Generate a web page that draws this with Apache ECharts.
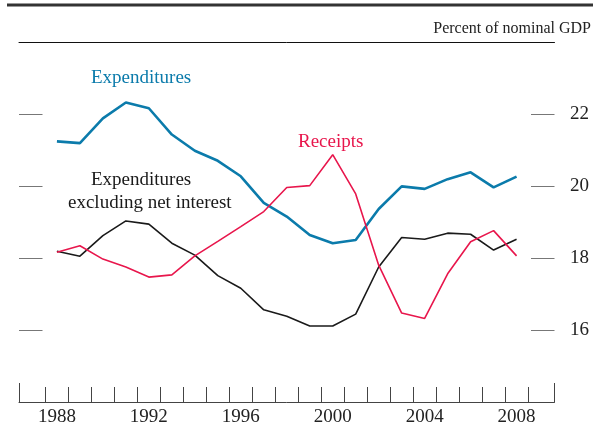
<!DOCTYPE html>
<html>
<head>
<meta charset="utf-8">
<script src="https://cdn.jsdelivr.net/npm/echarts@6/dist/echarts.min.js"></script>
<style>
  html, body { margin: 0; padding: 0; background: #fff; }
  #chart1 { width: 593px; height: 427px; }
</style>
</head>
<body>
<div id="chart1"></div>
<script>
const years = [1988, 1989, 1990, 1991, 1992, 1993, 1994, 1995, 1996, 1997, 1998,
  1999, 2000, 2001, 2002, 2003, 2004, 2005, 2006, 2007, 2008];
const expenditures = [21.24, 21.19, 21.88, 22.32, 22.16, 21.43, 20.98, 20.70, 20.27, 19.53, 19.15,
  18.64, 18.41, 18.50, 19.36, 19.99, 19.92, 20.19, 20.38, 19.96, 20.26];
const receipts = [18.16, 18.34, 17.97, 17.75, 17.47, 17.53, 18.06, 18.46, 18.87, 19.29, 19.96,
  20.01, 20.87, 19.78, 17.80, 16.47, 16.32, 17.56, 18.45, 18.76, 18.06];
const exNetInterest = [18.19, 18.05, 18.62, 19.03, 18.94, 18.41, 18.08, 17.51, 17.16, 16.56, 16.38,
  16.11, 16.11, 16.44, 17.75, 18.57, 18.52, 18.69, 18.66, 18.22, 18.52];
const yearLabels = [1988, 1992, 1996, 2000, 2004, 2008];
const yTicks = [16, 18, 20, 22];
const yearTicks = [];
for (let y = 1987.5; y <= 2008.5; y++) yearTicks.push(y);

const FONT = '"Liberation Serif", "DejaVu Serif", serif';
const xMin = 1986.35, xMax = 2009.65;

function pairs(vals) {
  return years.map((y, i) => [y, vals[i]]);
}

let option = {
  animation: false,
  backgroundColor: '#fff',
  textStyle: { fontFamily: FONT },
  grid: { left: 19, right: 38.5, top: 42, bottom: 23 },
  xAxis: [
    {
      type: 'value',
      position: 'bottom',
      min: xMin,
      max: xMax,
      splitLine: { show: false },
      axisLine: { show: true, lineStyle: { color: '#444', width: 1 } },
      axisTick: {
        show: true, inside: true, length: 15,
        customValues: yearTicks,
        lineStyle: { color: '#444', width: 1 }
      },
      axisLabel: {
        customValues: yearLabels,
        margin: 6,
        color: '#222',
        fontSize: 19,
        fontFamily: FONT,
        formatter: v => String(v)
      }
    },
    {
      // taller end ticks
      type: 'value',
      position: 'bottom',
      min: xMin,
      max: xMax,
      splitLine: { show: false },
      axisLine: { show: false },
      axisTick: {
        show: true, inside: true, length: 19,
        customValues: [xMin + 0.01, xMax - 0.01],
        lineStyle: { color: '#444', width: 1 }
      },
      axisLabel: { show: false }
    },
    {
      // top rule
      type: 'value',
      position: 'top',
      min: xMin,
      max: xMax,
      splitLine: { show: false },
      axisLine: { show: true, lineStyle: { color: '#111', width: 1 } },
      axisTick: { show: false },
      axisLabel: { show: false }
    }
  ],
  yAxis: [
    {
      type: 'value',
      position: 'left',
      min: 14,
      max: 24,
      interval: 2,
      splitLine: { show: false },
      axisLine: { show: false },
      axisTick: {
        show: true, inside: true, length: 23.5,
        customValues: yTicks,
        lineStyle: { color: '#777', width: 1 }
      },
      axisLabel: { show: false }
    },
    {
      type: 'value',
      position: 'right',
      min: 14,
      max: 24,
      interval: 2,
      splitLine: { show: false },
      axisLine: { show: false },
      axisTick: {
        show: true, inside: true, length: 23.5,
        customValues: yTicks,
        lineStyle: { color: '#777', width: 1 }
      },
      axisLabel: {
        customValues: yTicks,
        margin: 15.5,
        color: '#222',
        fontSize: 19,
        fontFamily: FONT
      }
    }
  ],
  series: [
    {
      name: 'Expenditures',
      type: 'line',
      data: pairs(expenditures),
      showSymbol: false,
      lineStyle: { color: '#0b7bab', width: 2.6 },
      z: 3
    },
    {
      name: 'Receipts',
      type: 'line',
      data: pairs(receipts),
      showSymbol: false,
      lineStyle: { color: '#e8164c', width: 1.6 },
      z: 4
    },
    {
      name: 'Expenditures excluding net interest',
      type: 'line',
      data: pairs(exNetInterest),
      showSymbol: false,
      lineStyle: { color: '#1a1a1a', width: 1.6 },
      z: 2
    }
  ],
  graphic: [
    { type: 'line', shape: { x1: 7, y1: 5, x2: 593, y2: 5 }, style: { stroke: '#333', lineWidth: 3 } },
    {
      type: 'text', right: 2, top: 21,
      style: { text: 'Percent of nominal GDP', font: '16px ' + FONT, fill: '#222' }
    },
    {
      type: 'text', left: 91, top: 69,
      style: { text: 'Expenditures', font: '19px ' + FONT, fill: '#0b7bab' }
    },
    {
      type: 'text', left: 298, top: 133,
      style: { text: 'Receipts', font: '19px ' + FONT, fill: '#e8164c' }
    },
    {
      type: 'text', left: 91, top: 171,
      style: { text: 'Expenditures', font: '19px ' + FONT, fill: '#1a1a1a' }
    },
    {
      type: 'text', left: 68, top: 194,
      style: { text: 'excluding net interest', font: '19px ' + FONT, fill: '#1a1a1a' }
    }
  ]
};

let myChart1 = echarts.init(document.getElementById('chart1'));
myChart1.setOption(option);
</script>
</body>
</html>
